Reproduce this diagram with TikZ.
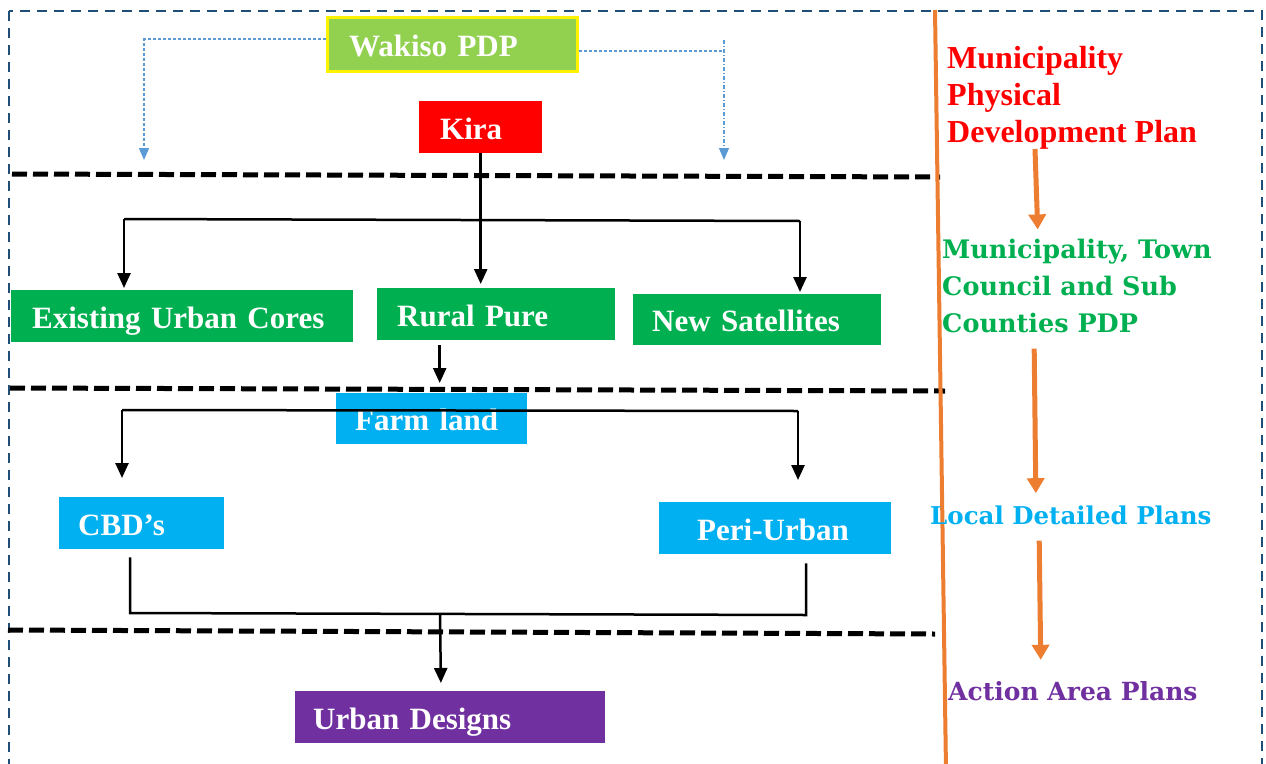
\documentclass[tikz,border=0pt]{standalone}
\usepackage{fontspec}
\setmainfont{Liberation Serif}
\newfontfamily\wideserif{DejaVu Serif}
\usetikzlibrary{arrows.meta}

\definecolor{pdpgreen}{HTML}{92D050}
\definecolor{zonegreen}{HTML}{00B050}
\definecolor{zonecyan}{HTML}{00B0F0}
\definecolor{zonepurple}{HTML}{7030A0}
\definecolor{pdpblue}{HTML}{5B9BD5}
\definecolor{planorange}{HTML}{ED7D31}
\definecolor{frameblue}{HTML}{1F4E79}

\tikzset{
  stage/.style={anchor=north west, text=white, inner ysep=0pt, align=left,
    text height=28pt, text depth=4pt,
    font=\fontsize{31}{36}\selectfont\bfseries},
  link/.style={line width=2.5pt, -{Triangle[length=15pt,width=13pt]}},
  bar/.style={line width=2.5pt},
  divider/.style={line width=5pt, dash pattern=on 15pt off 6pt},
  pdplink/.style={pdpblue, line width=1.2pt, dash pattern=on 3pt off 2pt},
  level/.style={anchor=base west, align=left, inner sep=0pt,
    font=\wideserif\fontsize{25}{37}\selectfont\bfseries},
  flow/.style={planorange, line width=5pt, -{Triangle[length=15pt,width=17pt]}}
}

\begin{document}
\begin{tikzpicture}[x=1pt,y=-1pt]
\useasboundingbox (0,0) rectangle (1266,763);
\clip (0,0) rectangle (1266,763);
%\draw[gray!30] (0,0) grid[step=50pt] (1266,763);

% frame and levels
\draw[frameblue, line width=2.5pt, dash pattern=on 10pt off 7pt] (9,11) rectangle (1262,800);
\draw[divider] (12,174) -- (940,177);
\draw[divider] (10,388) -- (945,391);
\draw[divider] (8,630) -- (935,634);
\draw[planorange, line width=4pt] (935,10) -- (946,770);

% boxes
\node[stage, fill=pdpgreen, draw=yellow, line width=3pt, minimum height=54pt,
  text width=206pt, inner xsep=22pt] (wakiso) at (325.5,15.5) {Wakiso PDP};
\node[stage, fill=red, minimum height=52pt, text width=81pt, inner xsep=21pt] (kira) at (419,101) {Kira};
\node[stage, fill=zonegreen, minimum height=52pt, text width=300pt, inner xsep=21pt] (cores) at (11,290) {Existing Urban Cores};
\node[stage, fill=zonegreen, minimum height=52pt, text width=198pt, inner xsep=20pt] (rural) at (377,288) {Rural Pure};
\node[stage, fill=zonegreen, minimum height=51pt, text width=210pt, inner xsep=19pt] (sats) at (633,294) {New Satellites};
\node[stage, fill=zonecyan, minimum height=51pt, text width=153pt, inner xsep=19pt] (farm) at (336,393) {Farm land};
\node[stage, fill=zonecyan, minimum height=52pt, text width=127pt, inner xsep=19pt] (cbd) at (59,497) {CBD’s};
\node[stage, fill=zonecyan, minimum height=52pt, text width=156pt, inner xsep=38pt] (peri) at (659,502) {Peri-Urban};
\node[stage, fill=zonepurple, minimum height=52pt, text width=274pt, inner xsep=18pt] (design) at (295,691) {Urban Designs};

% wakiso links
\coordinate (lefttip) at (144,160);
\coordinate (righttip) at (724,160);
\draw[pdplink, -{Triangle[length=12pt,width=10pt]}] ([yshift=5pt]wakiso.west) -| (lefttip);
\draw[pdplink] ([yshift=-7pt]wakiso.east) -- ([yshift=109pt]righttip);
\draw[pdplink, dash pattern=on 4pt off 2pt on 1pt off 2pt, -{Triangle[length=12pt,width=10pt]}]
  ([yshift=120pt]righttip) -- (righttip);

% kira to zones
\coordinate (barL) at (124,219);
\coordinate (barR) at (800,221);
\draw[link, shorten >=4pt] (kira.south) -- (kira.south |- rural.north);
\draw[bar] (barL) -- (barR);
\draw[link, shorten >=2pt] (barL) -- (barL |- cores.north);
\draw[link, shorten >=2pt] (barR) -- (barR |- sats.north);
\draw[link, shorten <=5pt, shorten >=10pt] ([xshift=8pt]farm.north |- rural.south) -- ([xshift=8pt]farm.north);

% farm land split
\coordinate (splitL) at (122,410);
\coordinate (splitR) at (798,411);
\draw[bar] (splitL) -- (splitR);
\draw[link, shorten >=19pt] (splitL) -- (splitL |- cbd.north);
\draw[link, shorten >=22pt] (splitR) -- (splitR |- peri.north);

% merge to urban designs
\coordinate (joinL) at (130,613);
\coordinate (joinR) at (806,615);
\draw[bar] ([yshift=-8pt]joinL |- cbd.south) -- (joinL) -- (joinR) -- ([yshift=-9pt]joinR |- peri.south);
\draw[link, shorten >=8pt] (design.north -| 440,0) ++(0,-77) -- (design.north -| 441,0);

% plan levels
\node[level, text=red, font=\fontsize{32}{37}\selectfont\bfseries] (mpdp) at (947,142)
  {Municipality\\Physical\\Development Plan};
\node[level, text=zonegreen, font=\wideserif\fontsize{25.5}{37}\selectfont\bfseries] (tcpdp) at (942,332)
  {Municipality, Town\\Council and Sub\\Counties PDP};
\node[level, text=zonecyan, font=\wideserif\fontsize{24.5}{37}\selectfont\bfseries] (ldp) at (930,524) {Local Detailed Plans};
\node[level, text=zonepurple] (aap) at (948,700) {Action Area Plans};
\draw[flow, shorten >=9pt] ([xshift=88pt]mpdp.south west) -- ([xshift=96pt]tcpdp.north west);
\draw[flow, shorten <=16pt, shorten >=12pt] ([xshift=92pt]tcpdp.south west) -- ([xshift=106pt]ldp.north west);
\draw[flow, shorten <=16pt, shorten >=21pt] ([xshift=109pt]ldp.south west) -- ([xshift=93pt]aap.north west);
\end{tikzpicture}
\end{document}
